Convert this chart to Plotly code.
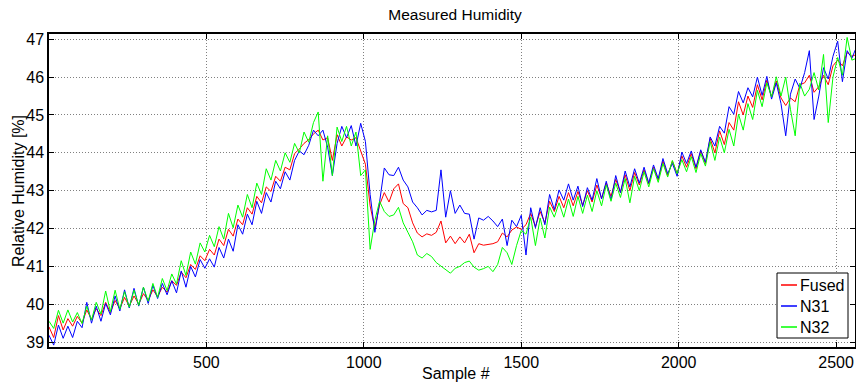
import plotly.graph_objects as go

# Sample index (every 15 samples)
samples = list(range(0, 2566, 15))

fused = [
    39.40, 39.12, 39.70, 39.32, 39.62, 39.42, 39.68, 39.50, 39.85, 39.60,
    39.88, 39.70, 40.05, 39.78, 40.10, 39.88, 40.18, 39.95, 40.22, 40.00,
    40.28, 40.10, 40.38, 40.20, 40.45, 40.32, 40.62, 40.50, 40.85, 40.70,
    41.05, 40.92, 41.28, 41.15, 41.45, 41.30, 41.72, 41.55, 41.98, 41.80,
    42.25, 42.10, 42.55, 42.38, 42.85, 42.68, 43.10, 42.98, 43.38, 43.25,
    43.62, 43.55, 43.98, 44.10, 44.25, 44.35, 44.50, 44.60, 44.34, 44.40,
    43.80, 44.48, 44.18, 44.42, 44.34, 44.40, 44.05, 43.70, 42.60, 42.00,
    42.62, 42.95, 42.70, 43.05, 43.18, 42.66, 42.55, 42.15, 41.88, 41.78,
    41.86, 41.82, 41.90, 42.20, 41.62, 41.80, 41.60, 41.78, 41.62, 41.85,
    41.36, 41.60, 41.56, 41.57, 41.60, 41.65, 41.88, 41.78, 41.96, 42.04,
    41.98, 42.10, 42.40, 42.05, 42.45, 42.15, 42.72, 42.45, 42.85, 42.55,
    42.95, 42.60, 42.98, 42.62, 43.00, 42.70, 43.15, 42.80, 43.20, 42.85,
    43.30, 42.95, 43.42, 43.00, 43.48, 43.15, 43.55, 43.18, 43.62, 43.28,
    43.78, 43.40, 43.78, 43.45, 43.92, 43.62, 43.98, 43.58, 44.05, 43.72,
    44.38, 44.00, 44.58, 44.22, 44.80, 44.60, 45.35, 45.00, 45.50, 45.20,
    45.80, 45.40, 45.92, 45.48, 45.90, 45.45, 45.25, 45.45, 45.35, 45.80,
    45.85, 46.05, 45.60, 45.75, 46.05, 45.80, 46.30, 46.45, 46.30, 46.65,
    46.55, 46.60,
]

n31 = [
    39.18, 38.92, 39.45, 39.10, 39.42, 39.12, 39.55, 39.38, 40.05, 39.50,
    39.95, 39.55, 40.02, 39.72, 40.22, 39.82, 40.38, 39.90, 40.42, 39.95,
    40.45, 40.02, 40.50, 40.15, 40.55, 40.25, 40.62, 40.30, 40.88, 40.45,
    41.00, 40.72, 41.18, 40.95, 41.20, 40.98, 41.50, 41.22, 41.72, 41.40,
    42.10, 41.85, 42.38, 42.10, 42.72, 42.40, 42.95, 42.70, 43.25, 43.05,
    43.50, 43.28, 43.80, 44.05, 43.95, 44.20, 44.60, 44.45, 44.60, 44.15,
    43.40, 44.25, 44.70, 44.40, 44.72, 44.18, 44.78, 44.30, 42.90, 41.90,
    42.70, 43.60, 43.42, 43.40, 43.62, 43.28, 43.10, 42.70, 42.55, 42.36,
    42.48, 42.44, 42.48, 43.55, 42.30, 43.00, 42.40, 42.62, 42.40, 42.38,
    41.72, 42.28, 42.22, 42.32, 42.20, 42.05, 42.25, 41.55, 42.22, 42.05,
    42.35, 41.30, 42.55, 42.02, 42.55, 42.10, 42.90, 42.50, 43.02, 42.75,
    43.18, 42.75, 43.12, 42.58, 43.08, 42.75, 43.32, 42.78, 43.25, 42.75,
    43.40, 42.95, 43.52, 43.10, 43.58, 43.20, 43.62, 43.20, 43.68, 43.32,
    43.85, 43.45, 43.72, 43.38, 44.02, 43.72, 44.05, 43.62, 44.08, 43.75,
    44.42, 44.18, 44.70, 44.52, 45.22, 45.02, 45.62, 45.32, 45.72, 45.48,
    46.00, 45.52, 46.02, 45.42, 45.85, 45.30, 44.45, 45.55, 45.95, 45.70,
    46.12, 46.70, 44.88, 45.50, 46.25, 45.95, 46.55, 46.95, 45.88, 46.70,
    46.50, 46.80,
]

n32 = [
    39.55, 39.36, 39.84, 39.50, 39.85, 39.53, 39.78, 39.49, 39.95, 39.58,
    40.05, 39.74, 40.35, 39.80, 40.37, 39.87, 40.33, 39.92, 40.37, 39.97,
    40.45, 40.08, 40.55, 40.18, 40.68, 40.36, 40.80, 40.53, 41.15, 40.76,
    41.38, 41.06, 41.62, 41.38, 41.82, 41.52, 42.05, 41.72, 42.40, 42.02,
    42.62, 42.30, 42.90, 42.55, 43.20, 42.90, 43.58, 43.28, 43.80, 43.52,
    44.00, 43.75, 44.25, 44.00, 44.55, 44.28, 44.80, 45.08, 43.25, 44.45,
    43.40, 44.68, 44.30, 44.70, 44.18, 44.55, 43.40, 43.55, 41.45, 42.22,
    42.72, 42.45, 42.32, 42.36, 42.56, 42.15, 41.90, 41.65, 41.30, 41.22,
    41.34, 41.26, 41.10, 41.00, 40.90, 40.82, 40.95, 41.00, 41.10, 41.14,
    40.98, 40.90, 40.94, 41.00, 40.86, 41.05, 41.50, 41.36, 41.05, 41.55,
    41.95, 41.85, 42.30, 41.55, 42.28, 41.75, 42.57, 42.30, 42.68, 42.30,
    42.78, 42.32, 42.85, 42.40, 42.88, 42.45, 43.00, 42.60, 43.15, 42.72,
    43.20, 42.82, 43.32, 42.68, 43.38, 43.00, 43.50, 43.10, 43.58, 43.22,
    43.72, 43.36, 43.80, 43.45, 43.82, 43.50, 43.90, 43.48, 43.98, 43.65,
    44.30, 43.80, 44.42, 44.00, 44.62, 44.18, 45.02, 44.60, 45.30, 44.88,
    45.65, 45.22, 45.85, 45.48, 46.01, 45.50, 46.00, 45.15, 44.45, 45.84,
    45.50, 45.68, 46.12, 45.66, 46.60, 44.80, 46.00, 46.52, 46.05, 47.05,
    46.45, 46.50,
]

series_names = ["Fused", "N31", "N32"]
series_colors = ["#ff0000", "#0000ff", "#00ff00"]
x_ticks = [500, 1000, 1500, 2000, 2500]
y_ticks = [39, 40, 41, 42, 43, 44, 45, 46, 47]

FONT = "Liberation Sans, Arial, Helvetica, sans-serif"

# figure geometry (pixels)
W, H = 856, 383
L, R, T, B = 49, 1, 34, 36
PW, PH = W - L - R, H - T - B


def px_to_paper_x(px):
    return (px - L) / PW


def px_to_paper_y(py):
    return (H - B - py) / PH


fig = go.Figure()
for name, vals, col in zip(series_names, [fused, n31, n32], series_colors):
    fig.add_trace(go.Scatter(x=samples, y=vals, mode="lines", name=name,
                             line=dict(color=col, width=1)))

axis_common = dict(
    showline=True, linecolor="black", linewidth=1.5, mirror="ticks",
    ticks="inside", ticklen=5, tickcolor="black", tickwidth=1,
    showgrid=True, gridcolor="#808080", griddash="1px,2px", gridwidth=1,
    zeroline=False, automargin=False,
    tickfont=dict(family=FONT, size=16, color="black"),
)

# legend box drawn to match the original compact MATLAB legend
shapes = [dict(type="rect", xref="paper", yref="paper",
               x0=px_to_paper_x(777), x1=px_to_paper_x(848),
               y0=px_to_paper_y(338), y1=px_to_paper_y(273),
               line=dict(color="black", width=1), fillcolor="white",
               layer="above")]
annotations = []
for k, (name, col) in enumerate(zip(series_names, series_colors)):
    yk = 285 + 21 * k
    shapes.append(dict(type="line", xref="paper", yref="paper",
                       x0=px_to_paper_x(781), x1=px_to_paper_x(797),
                       y0=px_to_paper_y(yk), y1=px_to_paper_y(yk),
                       line=dict(color=col, width=1.5), layer="above"))
    annotations.append(dict(text=name, xref="paper", yref="paper",
                            x=px_to_paper_x(798), y=px_to_paper_y(yk),
                            xanchor="left", yanchor="middle", showarrow=False,
                            font=dict(family=FONT, size=16, color="black")))

annotations.append(dict(text="Sample #", xref="paper", yref="paper",
                        x=px_to_paper_x(456), y=px_to_paper_y(373),
                        xanchor="center", yanchor="middle", showarrow=False,
                        font=dict(family=FONT, size=16, color="black")))
annotations.append(dict(text="Relative Humidity [%]", xref="paper", yref="paper",
                        x=px_to_paper_x(18), y=px_to_paper_y(191),
                        xanchor="center", yanchor="middle", showarrow=False,
                        textangle=-90,
                        font=dict(family=FONT, size=16, color="black")))

fig.update_layout(
    width=W, height=H,
    margin=dict(l=L, r=R, t=T, b=B),
    paper_bgcolor="white", plot_bgcolor="white",
    font=dict(family=FONT, size=16, color="black"),
    title=dict(text="Measured Humidity", x=(455 / W), xanchor="center",
               xref="container", y=1 - 15 / H, yanchor="middle",
               yref="container", automargin=False,
               font=dict(family=FONT, size=15.5, color="black")),
    xaxis=dict(range=[0, 2560], tickvals=x_ticks, **axis_common),
    yaxis=dict(range=[38.87, 47.14], tickvals=y_ticks, **axis_common),
    showlegend=False,
    shapes=shapes,
    annotations=annotations,
)

fig.write_html(
    "out.html",
    config={"displayModeBar": False},
    post_script="document.body.style.margin='0';"
                "document.body.style.overflow='hidden';",
)
